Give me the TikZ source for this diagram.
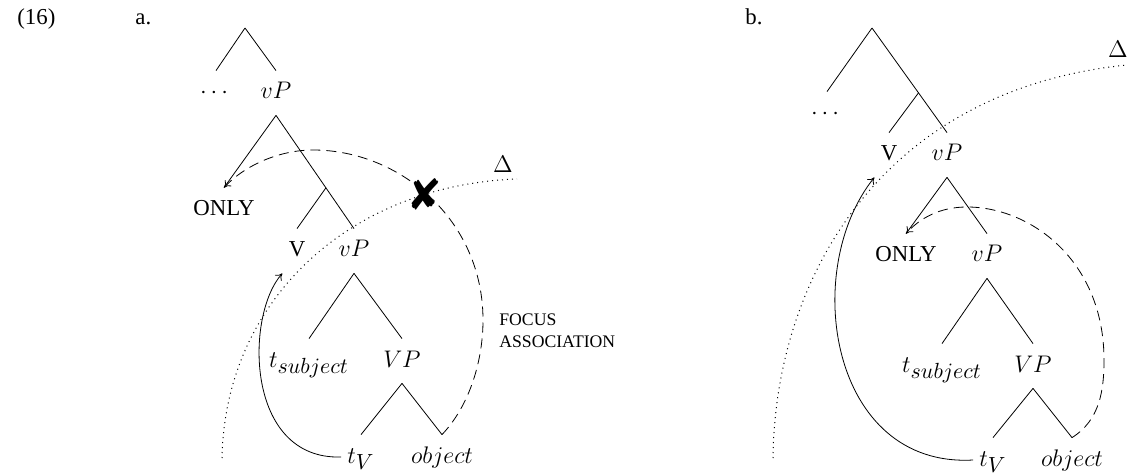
\documentclass[tikz,border=0pt]{standalone}
\usepackage{amsmath,amssymb}
\usepackage{fontspec}
\setmainfont{Liberation Serif}[Scale=0.95]
\DeclareMathSizes{12}{12.5}{10.5}{8}
\usepackage{pifont}
\usepackage{tikz}
\usetikzlibrary{arrows.meta,calc}
\tikzset{
	lbl/.style={inner xsep=3pt, inner ysep=2.5pt, text height=11.5pt,
		text depth=5.5pt, anchor=base},
	tag/.style={inner sep=0pt, anchor=base west},
	move/.style={->, >={To[length=3.2pt,width=4.4pt]}},
	assoc/.style={move, dash pattern=on 5pt off 3pt},
	phase/.style={dotted, line width=0.5pt},
	note/.style={inner sep=0pt, anchor=north west, align=left,
		font=\fontsize{9.3}{11}\selectfont},
}
\begin{document}
\begin{tikzpicture}[x=0.5pt, y=-0.5pt, font=\fontsize{12}{14}\selectfont]
	\useasboundingbox (0,0) rectangle (1128,475);
	\node[tag] at (17,25) (ex) {(16)};
	\node[tag] at (135,25) (pa) {a.};
	\node[tag] at (745,25) (pb) {b.};
	\coordinate (topA) at (245,28);
	\node[lbl] at (216,99) (dotsA) {$\cdots$};
	\node[lbl] at (276,99) (vPa1) {$vP$};
	\node[lbl] at (224,216) (onlyA) {ONLY};
	\node[lbl] at (297,257) (va) {V};
	\node[lbl] at (354,257) (vPa2) {$vP$};
	\node[lbl] at (309,367) (tsubA) {$t_{subject}$};
	\node[lbl] at (402,367) (VPa) {$VP$};
	\node[lbl] at (361,463) (tVa) {$t_V$};
	\node[lbl] at (442,463) (objA) {$object$};
	\coordinate (midA) at ($(vPa1.south)!0.64!(vPa2.north)$);
	\draw (topA) -- (dotsA.north);
	\draw (topA) -- (vPa1.north);
	\draw (vPa1.south) -- (onlyA.north);
	\draw (vPa1.south) -- (vPa2.north);
	\draw (midA) -- (va.north);
	\draw (vPa2.south) -- (tsubA.north);
	\draw (vPa2.south) -- (VPa.north);
	\draw (VPa.south) -- (tVa.north);
	\draw (VPa.south) -- (objA.north);
	\coordinate (phA0) at (222,458);
	\coordinate (phA1) at (517,179);
	\draw[phase] (phA0) .. controls (225,300) and (350,185) .. (phA1);
	\node[inner sep=0pt] at (503,164) (delA) {$\Delta$};
	\draw[move] (tVa.west) .. controls (245,460) and (245,315) .. (va.south west);
	\draw[assoc] (objA.north) .. controls (470,405) and (483,360) .. (483,320)
		.. controls (483,220) and (400,150) .. (313,150)
		.. controls (280,150) and (245,165) .. (onlyA.north);
	\node[inner sep=0pt, font=\fontsize{22}{22}\selectfont] at (425,194) (blockA) {\ding{56}};
	\node[note] at (499,313) (focA) {FOCUS\\ASSOCIATION};
	\coordinate (topB) at (872,28);
	\node[lbl] at (827,120) (dotsB) {$\cdots$};
	\node[lbl] at (889,161) (vb) {V};
	\node[lbl] at (947,161) (vPb1) {$vP$};
	\node[lbl] at (906,262) (onlyB) {ONLY};
	\node[lbl] at (987,262) (vPb2) {$vP$};
	\node[lbl] at (942,372) (tsubB) {$t_{subject}$};
	\node[lbl] at (1033,372) (VPb) {$VP$};
	\node[lbl] at (993,466) (tVb) {$t_V$};
	\node[lbl] at (1072,466) (objB) {$object$};
	\coordinate (midB) at ($(topB)!0.62!(vPb1.north)$);
	\draw (topB) -- (dotsB.north);
	\draw (topB) -- (vPb1.north);
	\draw (midB) -- (vb.north);
	\draw (vPb1.south) -- (onlyB.north);
	\draw (vPb1.south) -- (vPb2.north);
	\draw (vPb2.south) -- (tsubB.north);
	\draw (vPb2.south) -- (VPb.north);
	\draw (VPb.south) -- (tVb.north);
	\draw (VPb.south) -- (objB.north);
	\coordinate (phB0) at (773,458);
	\coordinate (phB1) at (1127,65);
	\draw[phase] (phB0) .. controls (775,280) and (880,90) .. (phB1);
	\node[inner sep=0pt] at (1118,49) (delB) {$\Delta$};
	\draw[move] (tVb.west) .. controls (830,468) and (800,270) .. (vb.south west);
	\draw[assoc] (objB.north) .. controls (1100,420) and (1104,390) .. (1104,360)
		.. controls (1104,260) and (1030,207) .. (967,207)
		.. controls (940,207) and (920,218) .. (onlyB.north);
\end{tikzpicture}
\end{document}
